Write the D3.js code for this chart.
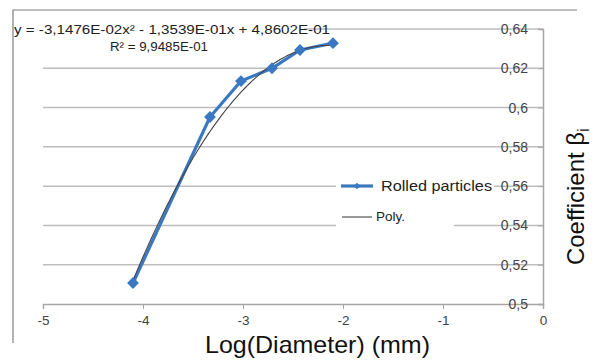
<!DOCTYPE html>
<html>
<head>
<meta charset="utf-8">
<script src="https://cdn.jsdelivr.net/npm/d3@7"></script>
<style>
  body { margin: 0; background: #fff; }
  svg { display: block; font-family: "Liberation Sans", Arial, sans-serif; }
</style>
</head>
<body>
<div id="chart"></div>
<script>
// measured points: log(diameter) vs coefficient
const logDiameter = [-4.1, -3.33, -3.02, -2.71, -2.43, -2.1];
const coefBeta = [0.5107, 0.5952, 0.6135, 0.6200, 0.6293, 0.6328];
// excel poly trendline (order 2), coefficients a, b, c
const polyCoef = [-3.1476e-2, -1.3539e-1, 4.8602e-1];
const xTicks = [-5, -4, -3, -2, -1, 0];
const yTicks = [0.5, 0.52, 0.54, 0.56, 0.58, 0.6, 0.62, 0.64];
const eqLabel = "y = -3,1476E-02x² - 1,3539E-01x + 4,8602E-01";
const r2Label = "R² = 9,9485E-01";

const W = 599, H = 361;
const margin = { left: 43, right: 56, top: 29, bottom: 57 };

const svg = d3.select("#chart").append("svg")
  .attr("width", W).attr("height", H);

const x = d3.scaleLinear().domain([-5, 0]).range([margin.left, W - margin.right]);
const y = d3.scaleLinear().domain([0.5, 0.64]).range([H - margin.bottom, margin.top]);

const fmt = d => String(+d.toFixed(2)).replace(".", ",");

// outer frame (top + left only, like the cropped original)
svg.append("path")
  .attr("d", `M13,343 L13,10 L577,10`)
  .attr("fill", "none").attr("stroke", "#7f7f7f").attr("stroke-width", 1.2);

// gridlines
svg.append("g").selectAll("line")
  .data(yTicks.filter(d => d > 0.5))
  .join("line")
    .attr("x1", x(-5)).attr("x2", x(0))
    .attr("y1", d => y(d)).attr("y2", d => y(d))
    .attr("stroke", "#bdbdbd").attr("stroke-width", 1.5);

// x axis
const xAxis = svg.append("g")
  .attr("transform", `translate(0,${y(0.5)})`)
  .call(d3.axisBottom(x).tickValues(xTicks).tickSize(5).tickPadding(6).tickFormat(d => d));
xAxis.select(".domain").attr("stroke", "#a6a6a6").attr("stroke-width", 1.5);
xAxis.selectAll(".tick line").attr("stroke", "#a6a6a6");
xAxis.selectAll("text").attr("fill", "#444").attr("font-size", 13.5)
  .attr("font-family", "Liberation Sans, Arial, sans-serif");

// y axis at x = 0 (labels inside, to the left)
const yAxis = svg.append("g")
  .attr("transform", `translate(${x(0)},0)`)
  .call(d3.axisLeft(y).tickValues(yTicks).tickSize(5).tickPadding(10).tickFormat(fmt));
yAxis.select(".domain").attr("stroke", "#a6a6a6").attr("stroke-width", 1.5);
yAxis.selectAll(".tick line").attr("stroke", "#a6a6a6");
yAxis.selectAll("text").attr("fill", "#444").attr("font-size", 14)
  .attr("font-family", "Liberation Sans, Arial, sans-serif");

// equation label box
svg.append("rect").attr("x", 14).attr("y", 18).attr("width", 290).attr("height", 20).attr("fill", "#fff");
svg.append("text").attr("x", 14).attr("y", 34)
  .attr("font-size", 12.5).attr("fill", "#222")
  .attr("textLength", 316).attr("lengthAdjust", "spacingAndGlyphs")
  .text(eqLabel);
svg.append("text").attr("x", 110).attr("y", 51)
  .attr("font-size", 12.5).attr("fill", "#222")
  .attr("textLength", 98).attr("lengthAdjust", "spacingAndGlyphs")
  .text(r2Label);

// trendline sampled over the data range
const polyPts = d3.range(0, 101).map(i => {
  const xv = logDiameter[0] + (logDiameter[logDiameter.length - 1] - logDiameter[0]) * i / 100;
  return [xv, polyCoef[0] * xv * xv + polyCoef[1] * xv + polyCoef[2]];
});

const blue = "#3a78c2";
const pts = logDiameter.map((d, i) => [d, coefBeta[i]]);
const line = d3.line().x(d => x(d[0])).y(d => y(d[1]));

svg.append("path").datum(pts)
  .attr("d", line).attr("fill", "none")
  .attr("stroke", blue).attr("stroke-width", 3.2).attr("stroke-linejoin", "round");

svg.append("path").datum(polyPts)
  .attr("d", line).attr("fill", "none")
  .attr("stroke", "#444").attr("stroke-width", 1.1);

// diamond markers
svg.append("g").selectAll("path")
  .data(pts)
  .join("path")
    .attr("d", d3.symbol().type(d3.symbolSquare).size(70))
    .attr("transform", d => `translate(${x(d[0])},${y(d[1])}) rotate(45)`)
    .attr("fill", blue);

// legend
const lg = svg.append("g");
lg.append("rect").attr("x", 336).attr("y", 174).attr("width", 158).attr("height", 22).attr("fill", "#fff");
lg.append("rect").attr("x", 336).attr("y", 205).attr("width", 118).attr("height", 24).attr("fill", "#fff");
lg.append("line").attr("x1", 341).attr("x2", 373).attr("y1", 186).attr("y2", 186)
  .attr("stroke", blue).attr("stroke-width", 3.2);
lg.append("path").attr("d", d3.symbol().type(d3.symbolSquare).size(22))
  .attr("transform", "translate(357,186) rotate(45)").attr("fill", blue);
lg.append("text").attr("x", 381).attr("y", 191).attr("font-size", 15.5).attr("fill", "#222")
  .attr("textLength", 111).attr("lengthAdjust", "spacingAndGlyphs")
  .text("Rolled particles");
lg.append("line").attr("x1", 342).attr("x2", 372).attr("y1", 217).attr("y2", 217)
  .attr("stroke", "#444").attr("stroke-width", 1.1);
lg.append("text").attr("x", 376).attr("y", 221).attr("font-size", 13.5).attr("fill", "#222")
  .text("Poly.");

// axis titles
svg.append("text").attr("x", 205).attr("y", 353)
  .attr("font-size", 24).attr("fill", "#111")
  .attr("textLength", 225).attr("lengthAdjust", "spacingAndGlyphs")
  .text("Log(Diameter) (mm)");

const yt = svg.append("text")
  .attr("transform", "translate(584,265) rotate(-90)")
  .attr("font-size", 24).attr("fill", "#111");
yt.append("tspan").attr("textLength", 133).attr("lengthAdjust", "spacingAndGlyphs")
  .text("Coefficient β");
yt.append("tspan").attr("font-size", 17).attr("dy", 5).text("i");
</script>
</body>
</html>
